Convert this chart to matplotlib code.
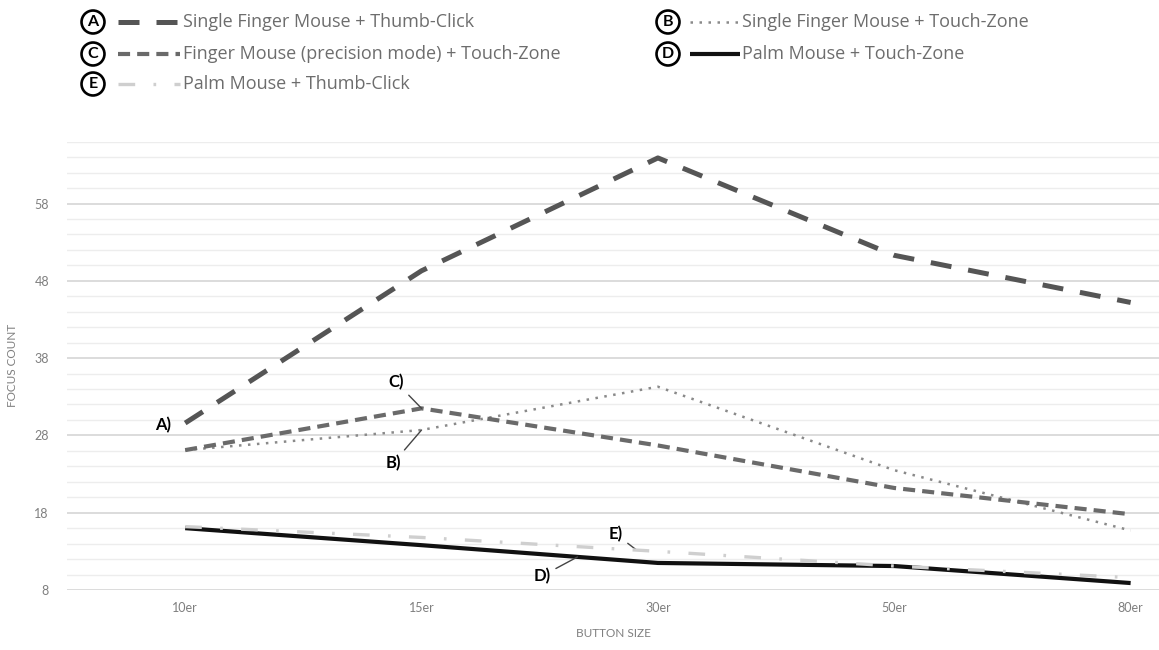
import numpy as np
import matplotlib
matplotlib.use('Agg')
import matplotlib.pyplot as plt
from matplotlib.lines import Line2D
from matplotlib.ticker import MultipleLocator

plt.rcParams['font.family'] = ['Lato', 'DejaVu Sans']

# data
sizes = ['10er', '15er', '30er', '50er', '80er']
series_a = [29.6, 49.3, 63.9, 51.3, 45.2]   # Single Finger Mouse + Thumb-Click
series_b = [26.1, 28.7, 34.3, 23.5, 15.7]   # Single Finger Mouse + Touch-Zone
series_c = [26.1, 31.5, 26.7, 21.2, 17.8]   # Finger Mouse (precision mode) + Touch-Zone
series_d = [16.0, 13.8, 11.5, 11.1, 8.9]    # Palm Mouse + Touch-Zone
series_e = [16.2, 14.8, 13.0, 11.1, 9.6]    # Palm Mouse + Thumb-Click
legend_labels = ['Single Finger Mouse + Thumb-Click',
                 'Single Finger Mouse + Touch-Zone',
                 'Finger Mouse (precision mode) + Touch-Zone',
                 'Palm Mouse + Touch-Zone',
                 'Palm Mouse + Thumb-Click']

W, H = 1159, 650
fig = plt.figure(figsize=(W / 100, H / 100), dpi=100)
ax = fig.add_axes([67 / W, 1 - 590 / H, 1 - 67 / W, (590 - 141.7) / H])

def px(x, y):
    return (x / W, 1 - y / H)

# line styles
sty_a = dict(color='#555555', lw=3.6, dashes=(4.2, 3.4), solid_capstyle='butt', dash_capstyle='butt')
sty_b = dict(color='#8a8a8a', lw=1.8, dashes=(1, 2.6))
sty_c = dict(color='#6a6a6a', lw=3.0, dashes=(2.9, 1.7), dash_capstyle='butt')
sty_d = dict(color='#111111', lw=3.0, solid_capstyle='butt')
sty_e = dict(color='#cfcfcf', lw=2.4, dashes=(5.0, 5.5, 0.8, 5.5), dash_capstyle='butt')

x = np.arange(len(sizes))
ax.plot(x, series_d, **sty_d, zorder=3)
ax.plot(x, series_e, **sty_e, zorder=4)
ax.plot(x, series_b, **sty_b, zorder=3)
ax.plot(x, series_c, **sty_c, zorder=3)
ax.plot(x, series_a, **sty_a, zorder=3)

ax.set_xlim(-0.5, 4.12)
ax.set_ylim(8, 66)
ax.set_xticks(x)
ax.set_xticklabels(sizes)
ax.yaxis.set_major_locator(MultipleLocator(10))
ax.set_yticks([8, 18, 28, 38, 48, 58])
ax.set_yticks(np.arange(10, 67, 2), minor=True)
ax.grid(axis='y', which='major', color='#d9d9d9', lw=1.3)
ax.grid(axis='y', which='minor', color='#ededed', lw=1.0)
ax.set_axisbelow(True)
for s in ax.spines.values():
    s.set_visible(False)
ax.tick_params(axis='both', which='both', length=0, labelsize=9, labelcolor='#7f7f7f')
ax.tick_params(axis='y', pad=13)
ax.tick_params(axis='x', pad=9)
ax.set_ylabel('FOCUS COUNT', fontsize=8.5, color='#7f7f7f', labelpad=12)
ax.set_xlabel('BUTTON SIZE', fontsize=8.5, color='#7f7f7f', labelpad=10)

# letter callouts
ann = dict(fontsize=12, fontweight='bold', color='black', textcoords='offset pixels')
arrow = dict(arrowstyle='-', color='#444444', lw=1.0, shrinkA=2, shrinkB=0)
ax.annotate('A)', xy=(0, series_a[0]), xytext=(-30, -2), ha='left', va='center', **ann)
ax.annotate('C)', xy=(1, series_c[1]), xytext=(-33, 26), ha='left', va='center',
            arrowprops=arrow, **ann)
ax.annotate('B)', xy=(1, series_b[1]), xytext=(-36, -33), ha='left', va='center',
            arrowprops=arrow, **ann)
e_x = 1.91
ax.annotate('E)', xy=(e_x, np.interp(e_x, x, series_e)), xytext=(-28, 16), ha='left', va='center',
            arrowprops=arrow, **ann)
d_x = 1.66
ax.annotate('D)', xy=(d_x, np.interp(d_x, x, series_d)), xytext=(-44, -19), ha='left', va='center',
            arrowprops=arrow, **ann)

# custom legend on top
legend_rows = [
    ('A', legend_labels[0], sty_a, 93, 22, 118, 180, 183),
    ('B', legend_labels[1], sty_b, 668, 22, 690, 738, 742),
    ('C', legend_labels[2], sty_c, 93, 54, 118, 180, 183),
    ('D', legend_labels[3], sty_d, 668, 54, 690, 740, 742),
    ('E', legend_labels[4], sty_e, 93, 84, 118, 180, 183),
]
for letter, label, sty, cx, cy, lx0, lx1, tx in legend_rows:
    fig.text(*px(cx, cy), letter, ha='center', va='center', fontsize=11.5, fontweight='bold',
             bbox=dict(boxstyle='circle,pad=0.28', fc='white', ec='black', lw=1.9))
    (x0, y0), (x1, _) = px(lx0, cy), px(lx1, cy)
    fig.add_artist(Line2D([x0, x1], [y0, y0], transform=fig.transFigure, **sty))
    fig.text(*px(tx, cy), label, ha='left', va='center', fontsize=13,
             family=['Open Sans', 'DejaVu Sans'], color='#6d6d6d')

fig.savefig('out.png', dpi=100)
